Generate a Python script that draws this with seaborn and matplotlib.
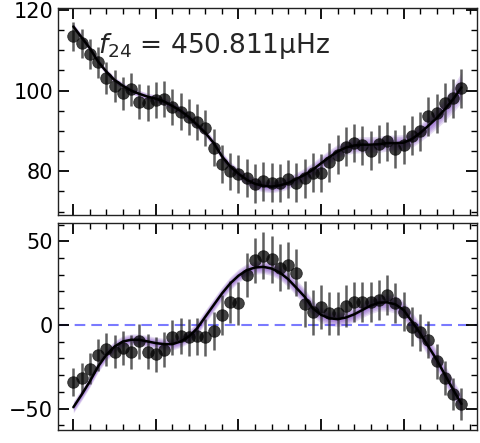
import numpy as np
import matplotlib
matplotlib.use("Agg")
import matplotlib.pyplot as plt
import seaborn as sns
import pandas as pd
from matplotlib.ticker import MultipleLocator, NullFormatter

# ---- data ----
time = [0.0, 0.1, 0.2, 0.3, 0.4, 0.5, 0.6, 0.7, 0.8, 0.9,
        1.0, 1.1, 1.2, 1.3, 1.4, 1.5, 1.6, 1.7, 1.8, 1.9,
        2.0, 2.1, 2.2, 2.3, 2.4, 2.5, 2.6, 2.7, 2.8, 2.9,
        3.0, 3.1, 3.2, 3.3, 3.4, 3.5, 3.6, 3.7, 3.8, 3.9,
        4.0, 4.1, 4.2, 4.3, 4.4, 4.5, 4.6, 4.7]

amplitude = [113.5, 111.7, 109.1, 107.0, 103.1, 101.2, 99.4, 100.3, 97.3, 96.9,
             97.7, 97.9, 96.0, 94.8, 93.4, 92.2, 90.7, 85.9, 81.8, 80.0,
             79.4, 78.3, 76.9, 77.5, 77.2, 77.1, 78.1, 77.2, 78.3, 79.7,
             79.6, 82.2, 84.1, 86.1, 87.0, 86.4, 85.1, 86.8, 87.4, 85.5,
             86.6, 88.8, 89.9, 93.6, 94.4, 97.0, 98.1, 100.6]
amplitude_err = [3.6, 3.7, 3.8, 3.8, 3.9, 4.0, 4.1, 4.1, 4.3, 4.4,
                 4.4, 4.4, 4.4, 4.5, 4.5, 4.5, 4.5, 4.6, 4.6, 4.6,
                 4.7, 4.7, 4.8, 4.8, 4.8, 4.8, 4.8, 4.8, 4.8, 4.8,
                 4.8, 4.8, 4.8, 4.8, 4.8, 4.8, 4.8, 4.8, 4.8, 4.8,
                 4.8, 4.8, 4.8, 4.8, 4.8, 4.8, 4.8, 4.8]

phase = [-34.1, -31.7, -26.2, -17.9, -14.5, -15.9, -13.9, -16.3, -9.9, -15.9,
         -17.5, -14.9, -7.5, -6.5, -7.5, -6.9, -7.5, -3.6, 6.0, 13.5,
         12.9, 29.8, 38.7, 41.3, 39.3, 34.1, 35.7, 31.3, 12.3, 7.5,
         10.9, 6.9, 6.9, 11.5, 13.5, 13.5, 13.5, 14.9, 17.9, 12.9,
         7.9, -1.0, -4.4, -8.9, -21.8, -31.7, -41.3, -47.2]
phase_err = [8.5, 8.8, 9.2, 9.5, 9.8, 10.0, 10.2, 10.2, 10.5, 10.5,
             10.5, 10.5, 10.5, 10.8, 11.0, 11.0, 11.2, 11.5, 12.0, 12.5,
             12.8, 13.0, 13.5, 14.0, 14.0, 14.0, 14.0, 14.0, 13.8, 13.5,
             13.2, 13.0, 12.8, 12.5, 12.0, 12.0, 12.0, 12.0, 12.0, 12.0,
             11.8, 11.5, 11.2, 11.0, 10.5, 10.2, 9.8, 9.4]

amp_fit = [115.9, 113.2, 110.5, 107.2, 104.7, 102.6, 101.2, 100.0, 99.2, 98.5,
           98.0, 97.3, 96.2, 95.0, 93.4, 91.5, 89.5, 87.0, 83.7, 81.2,
           79.4, 77.9, 76.9, 76.4, 76.2, 76.5, 77.1, 78.1, 79.1, 80.4,
           82.0, 83.5, 84.9, 85.9, 86.4, 86.6, 86.6, 86.7, 87.0, 87.0,
           87.1, 88.0, 89.5, 91.3, 93.2, 95.4, 97.9, 100.8]
amp_band = [0.8, 0.8, 0.8, 0.8, 0.8, 0.8, 0.8, 0.8, 0.9, 0.9,
            1.0, 1.0, 1.0, 1.0, 1.0, 1.0, 1.0, 1.0, 1.1, 1.2,
            1.3, 1.4, 1.5, 1.5, 1.5, 1.5, 1.5, 1.6, 1.7, 1.8,
            1.8, 1.8, 1.8, 1.8, 1.9, 2.0, 2.0, 2.0, 2.0, 2.0,
            2.0, 2.1, 2.2, 2.4, 2.6, 2.9, 3.3, 3.8]

phase_fit = [-49.2, -41.7, -33.7, -24.8, -17.9, -12.9, -9.9, -8.9, -8.9, -9.9,
             -10.9, -11.5, -11.5, -9.9, -6.9, -2.0, 5.0, 11.9, 18.8, 24.8,
             29.4, 32.7, 34.3, 34.7, 33.7, 31.3, 27.4, 22.2, 16.9, 9.9,
             6.0, 4.0, 3.4, 4.4, 6.3, 8.9, 11.5, 13.3, 13.5, 12.3,
             8.9, 2.0, -5.0, -12.9, -20.8, -29.8, -38.7, -47.2]
phase_band = [3.5, 3.5, 3.5, 3.5, 3.5, 3.5, 3.5, 3.5, 3.5, 3.5,
              3.5, 3.5, 3.5, 3.5, 3.8, 4.0, 4.0, 4.0, 4.0, 4.0,
              4.0, 4.0, 4.0, 4.0, 4.2, 4.4, 4.6, 4.8, 5.0, 5.0,
              4.8, 4.5, 4.5, 4.5, 4.5, 4.6, 4.8, 5.0, 5.2, 5.4,
              5.6, 5.8, 6.0, 6.0, 6.0, 6.0, 6.0, 6.0]

label_text = r"$f_{24}$ = 450.811μHz"

# ---- style ----
sns.set_style("ticks")
plt.rcParams["font.family"] = ["DejaVu Sans"]

df = pd.DataFrame({"time": time, "amplitude": amplitude, "amp_err": amplitude_err,
                   "phase": phase, "phase_err": phase_err,
                   "amp_fit": amp_fit, "amp_band": amp_band,
                   "phase_fit": phase_fit, "phase_band": phase_band})

fig = plt.figure(figsize=(4.8, 4.43), dpi=100)
ax1 = fig.add_axes([0.121, 0.515, 0.873, 0.467])
ax2 = fig.add_axes([0.121, 0.029, 0.873, 0.468])

purple = "#6a2bb8"

def draw(ax, ycol, ecol, fcol, bcol):
    t = df["time"].to_numpy()
    f = df[fcol].to_numpy()
    b = df[bcol].to_numpy()
    for frac in (1.0, 0.8, 0.6, 0.4, 0.2):
        ax.fill_between(t, f - frac * b, f + frac * b, color=purple,
                        alpha=0.17, lw=0, zorder=1)
    ax.errorbar(t, df[ycol], yerr=df[ecol], fmt="none", ecolor="#2a2a2a",
                elinewidth=1.8, alpha=0.75, zorder=2)
    sns.scatterplot(data=df, x="time", y=ycol, ax=ax, color="black", s=70,
                    alpha=0.74, edgecolor="#111111", linewidth=0.6, zorder=3)
    sns.lineplot(data=df, x="time", y=fcol, ax=ax, color="black", lw=1.8,
                 zorder=4)

draw(ax1, "amplitude", "amp_err", "amp_fit", "amp_band")
draw(ax2, "phase", "phase_err", "phase_fit", "phase_band")

ax2.axhline(0, color="#4d4dff", alpha=0.75, lw=1.5, ls=(0, (5.1, 2.9)), zorder=0.5)

ax1.set_xlim(-0.185, 4.89)
ax2.set_xlim(-0.185, 4.89)
ax1.set_ylim(69.2, 120.5)
ax2.set_ylim(-62.9, 61.0)

ax1.yaxis.set_major_locator(MultipleLocator(20))
ax1.yaxis.set_minor_locator(MultipleLocator(5))
ax2.yaxis.set_major_locator(MultipleLocator(50))
ax2.yaxis.set_minor_locator(MultipleLocator(10))

for ax in (ax1, ax2):
    ax.xaxis.set_major_locator(MultipleLocator(1))
    ax.xaxis.set_minor_locator(MultipleLocator(0.2))
    ax.xaxis.set_major_formatter(NullFormatter())
    ax.set_xlabel("")
    ax.set_ylabel("")
    ax.tick_params(which="both", direction="in", top=True, right=True,
                   labelsize=15, colors="black")
    ax.tick_params(which="major", length=8, width=1.3)
    ax.tick_params(which="minor", length=4, width=1.0)
    for s in ax.spines.values():
        s.set_color("#222222")
        s.set_linewidth(1.0)

ax1.text(0.095, 0.78, label_text, transform=ax1.transAxes, fontsize=19,
         ha="left", va="baseline", zorder=5)

fig.savefig("out.png", dpi=100)
